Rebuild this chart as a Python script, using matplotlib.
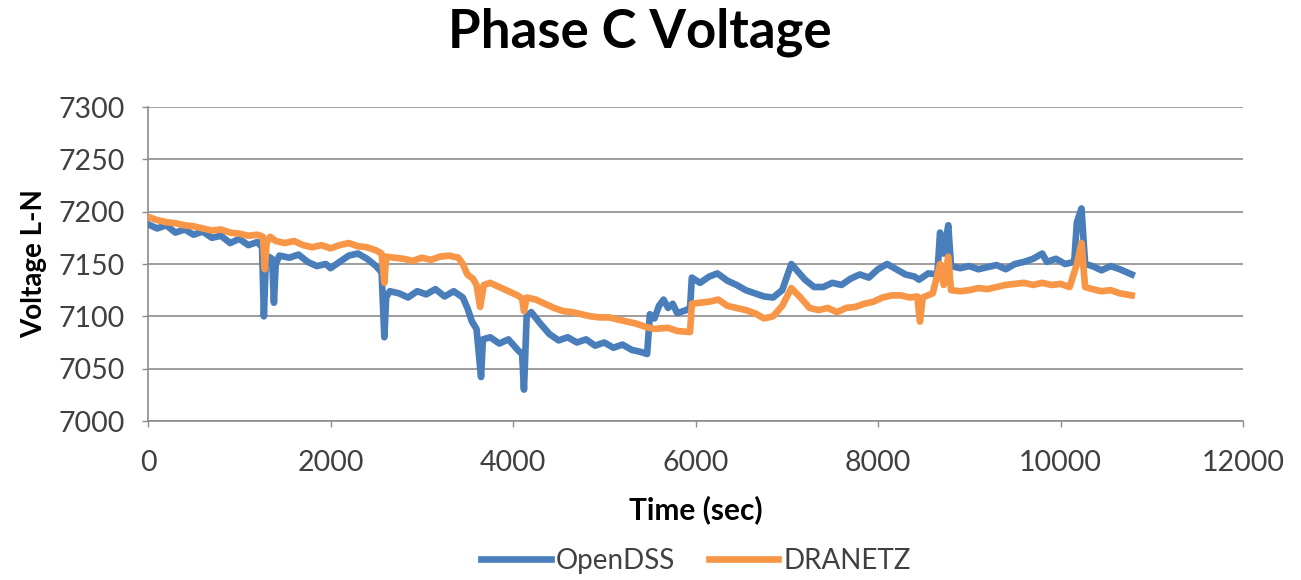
import matplotlib
matplotlib.use("Agg")
import matplotlib.pyplot as plt

# ---- data ----
opendss_t = [0, 100, 200, 300, 400, 500, 600, 700, 800, 900, 1000, 1100, 1200, 1250,
             1270, 1290, 1320, 1360, 1380, 1400, 1440, 1550, 1650, 1750, 1850, 1950,
             2000, 2100, 2200, 2300, 2400, 2500, 2560, 2590, 2610, 2650, 2750, 2850,
             2950, 3050, 3150, 3250, 3350, 3450, 3500, 3550, 3600, 3650, 3670, 3750,
             3850, 3950, 4050, 4100, 4120, 4150, 4200, 4300, 4400, 4500, 4600, 4700,
             4800, 4900, 5000, 5100, 5200, 5300, 5400, 5470, 5500, 5550, 5600, 5650,
             5700, 5750, 5800, 5900, 5940, 5960, 6050, 6150, 6240, 6350, 6450, 6550,
             6650, 6750, 6850, 6950, 7050, 7100, 7200, 7300, 7400, 7500, 7600, 7700,
             7800, 7900, 8000, 8100, 8200, 8300, 8400, 8450, 8550, 8650, 8680, 8720,
             8770, 8800, 8900, 9000, 9100, 9200, 9300, 9400, 9500, 9600, 9700, 9800,
             9850, 9950, 10050, 10150, 10180, 10230, 10270, 10350, 10450, 10550, 10650,
             10780]
opendss_v = [7188, 7184, 7187, 7180, 7183, 7178, 7181, 7175, 7177, 7170, 7174, 7168, 7171, 7166,
             7100, 7150, 7157, 7155, 7113, 7150, 7158, 7156, 7159, 7152, 7148, 7150,
             7146, 7152, 7158, 7160, 7155, 7148, 7142, 7080, 7118, 7124, 7122, 7118,
             7124, 7121, 7126, 7119, 7124, 7118, 7108, 7095, 7088, 7042, 7078, 7080,
             7074, 7078, 7068, 7064, 7030, 7100, 7104, 7093, 7083, 7077, 7080, 7075,
             7078, 7072, 7075, 7070, 7073, 7068, 7066, 7064, 7102, 7098, 7110, 7116,
             7108, 7112, 7103, 7106, 7108, 7137, 7132, 7138, 7141, 7134, 7130, 7125,
             7122, 7119, 7118, 7125, 7150, 7145, 7135, 7128, 7128, 7132, 7130, 7136,
             7140, 7137, 7145, 7150, 7145, 7140, 7138, 7135, 7141, 7140, 7180, 7160,
             7187, 7148, 7146, 7148, 7145, 7147, 7149, 7145, 7150, 7152, 7155, 7160,
             7152, 7155, 7150, 7152, 7190, 7203, 7150, 7148, 7144, 7148, 7145,
             7140]

dranetz_t = [0, 100, 200, 300, 400, 500, 600, 700, 800, 900, 1000, 1100, 1200, 1260,
             1280, 1300, 1340, 1400, 1500, 1600, 1700, 1800, 1900, 2000, 2100, 2200,
             2300, 2400, 2500, 2560, 2590, 2610, 2700, 2800, 2900, 3000, 3100, 3200,
             3300, 3400, 3450, 3500, 3560, 3600, 3640, 3680, 3750, 3850, 3950, 4050,
             4100, 4120, 4150, 4250, 4350, 4450, 4550, 4650, 4750, 4850, 4950, 5050,
             5150, 5250, 5350, 5450, 5550, 5700, 5800, 5940, 5960, 6050, 6150, 6250,
             6350, 6450, 6550, 6650, 6750, 6850, 6950, 7050, 7150, 7250, 7350, 7450,
             7550, 7650, 7750, 7850, 7950, 8050, 8150, 8250, 8350, 8430, 8460, 8490,
             8600, 8680, 8720, 8770, 8800, 8900, 9000, 9100, 9200, 9300, 9400, 9500,
             9600, 9700, 9800, 9900, 10000, 10100, 10180, 10230, 10270, 10350, 10450,
             10550, 10650, 10780]
dranetz_v = [7195, 7192, 7190, 7189, 7187, 7186, 7184, 7182, 7183, 7180, 7179, 7177, 7178, 7176,
             7145, 7170, 7176, 7172, 7170, 7172, 7168, 7166, 7168, 7165, 7168, 7170,
             7167, 7166, 7163, 7160, 7132, 7157, 7156, 7155, 7153, 7156, 7154, 7157,
             7158, 7156, 7150, 7140, 7136, 7130, 7109, 7130, 7132, 7128, 7124, 7120,
             7117, 7105, 7118, 7116, 7112, 7108, 7105, 7104, 7102, 7100, 7099, 7099,
             7097, 7095, 7093, 7090, 7088, 7089, 7086, 7085, 7112, 7113, 7114, 7116,
             7110, 7108, 7106, 7103, 7098, 7100, 7110, 7127, 7118, 7108, 7106, 7108,
             7104, 7108, 7109, 7112, 7114, 7118, 7120, 7120, 7118, 7119, 7095, 7118,
             7122, 7150, 7130, 7157, 7125, 7124, 7125, 7127, 7126, 7128, 7130, 7131,
             7132, 7130, 7132, 7130, 7131, 7128, 7150, 7170, 7128, 7126, 7124,
             7125, 7122, 7120]

series_names = ["OpenDSS", "DRANETZ"]
title = "Phase C Voltage"
xlabel = "Time (sec)"
ylabel = "Voltage L-N"
xticks = [0, 2000, 4000, 6000, 8000, 10000, 12000]
yticks = [7000, 7050, 7100, 7150, 7200, 7250, 7300]

# ---- style ----
plt.rcParams['font.family'] = ['Lato', 'DejaVu Sans']
blue = '#4A7EBB'
orange = '#F79646'
grid_c = '#8C8C8C'
text_c = '#404040'

fig = plt.figure(figsize=(13.01, 5.80), dpi=100)
ax = fig.add_axes([148/1301, 1-421/580, (1243-148)/1301, (421-107)/580])

l1, = ax.plot(opendss_t, opendss_v, color=blue, lw=4.8, solid_joinstyle='round',
              label=series_names[0], zorder=3)
l2, = ax.plot(dranetz_t, dranetz_v, color=orange, lw=4.8, solid_joinstyle='round',
              label=series_names[1], zorder=4)

ax.set_xlim(0, 12000)
ax.set_ylim(7000, 7300)
ax.set_xticks(xticks)
ax.set_yticks(yticks)
ax.yaxis.grid(True, color=grid_c, lw=1.2)
ax.set_axisbelow(True)
for s in ['top', 'right']:
    ax.spines[s].set_visible(False)
for s in ['left', 'bottom']:
    ax.spines[s].set_color(grid_c)
    ax.spines[s].set_linewidth(1.2)
ax.tick_params(axis='both', colors=grid_c, length=4, width=1.0, labelsize=20.5,
               labelcolor=text_c)
ax.tick_params(axis='y', pad=13)
ax.tick_params(axis='x', pad=17)

ax.set_xlabel(xlabel, fontsize=21.5, fontweight='bold', color='black', labelpad=14)
ax.set_ylabel(ylabel, fontsize=20, fontweight='bold', color='black', labelpad=8)
fig.suptitle(title, x=0.492, y=1-32/580, va='center', fontsize=38, fontweight='bold')

fig.legend(handles=[l1, l2], loc='center', bbox_to_anchor=(0.535, 1-561/580), ncol=2,
           frameon=False, fontsize=20, handlelength=2.5, handletextpad=0.2,
           columnspacing=1.2, labelcolor=text_c)

fig.savefig('out.png', dpi=100)
